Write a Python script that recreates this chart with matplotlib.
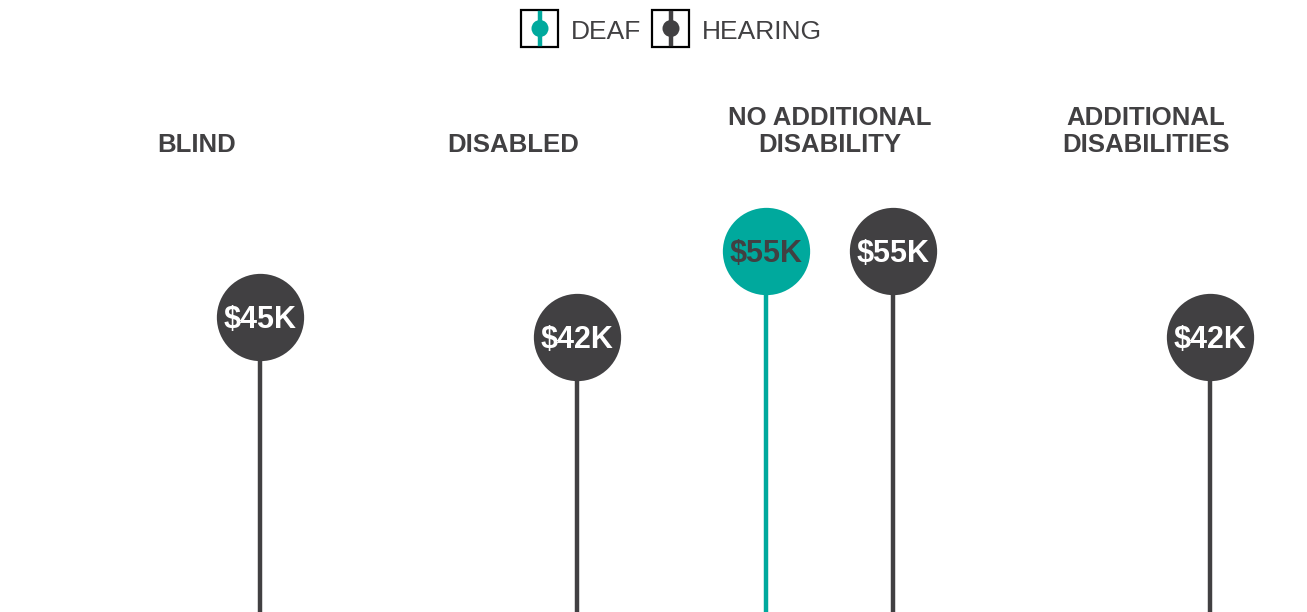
import numpy as np
import matplotlib.pyplot as plt
from matplotlib.patches import Rectangle, Ellipse
from matplotlib.lines import Line2D
import matplotlib.transforms as mtransforms

plt.rcParams["font.family"] = ["Liberation Sans", "DejaVu Sans"]

# Data (median earnings, $K)
groups = ["BLIND", "DISABLED", "NO ADDITIONAL\nDISABILITY", "ADDITIONAL\nDISABILITIES"]
deaf = [np.nan, np.nan, 55, np.nan]
hearing = [45, 42, 55, 42]

TEAL = "#00A99D"
DARK = "#414042"

W, H = 1307, 612
fig = plt.figure(figsize=(W / 100, H / 100), dpi=100)
ax = fig.add_axes([0, 0, 1, 1])

# group spacing ~316.5 px, first group centred at 196.5 px
spacing = 316.5
x0 = 196.5
ax.set_xlim(-x0 / spacing, (W - x0) / spacing)
px_per_k = 6.6
ax.set_ylim(55 - (H - 251) / px_per_k, 55 + 251 / px_per_k)
ax.axis("off")

xpos = np.arange(len(groups))
off = 63.5 / spacing
msize = 3950  # points^2, ~87 px diameter


def draw_series(xs, vals, color, txtcolor):
    for x, v in zip(xs, vals):
        if np.isnan(v):
            continue
        ax.plot([x, x], [ax.get_ylim()[0] - 5, v], color=color, lw=3.2,
                solid_capstyle="butt", zorder=1)
        ax.scatter([x], [v], s=msize, color=color, zorder=2, linewidths=0)
        ax.text(x, v, f"${v:.0f}K", ha="center", va="center_baseline",
                fontsize=22, fontweight="bold", color=txtcolor, zorder=3)


draw_series(xpos - off, deaf, TEAL, DARK)
draw_series(xpos + off, hearing, DARK, "white")

# group titles
trans = mtransforms.blended_transform_factory(ax.transData, ax.transAxes)
for x, g in zip(xpos, groups):
    ax.text(x, 1 - 152 / H, g, transform=trans, ha="center", va="baseline",
            fontsize=18.5, fontweight="bold", color=DARK, linespacing=1.15,
            multialignment="center")

# legend drawn in pixel coordinates
lax = fig.add_axes([0, 0, 1, 1], facecolor="none")
lax.set_xlim(0, W)
lax.set_ylim(H, 0)
lax.axis("off")


def legend_item(xl, color, label):
    lax.add_patch(Rectangle((xl, 10), 37, 37, fill=False, ec="black", lw=1.6))
    cx, cy = xl + 19, 28.5
    lax.add_line(Line2D([cx, cx], [13, 44], color=color, lw=3.2))
    lax.add_patch(Ellipse((cx, cy), 17, 17, color=color, lw=0))
    lax.text(xl + 50, 39, label, ha="left", va="baseline", fontsize=19,
             color=DARK)


legend_item(521, TEAL, "DEAF")
legend_item(652, DARK, "HEARING")

fig.savefig("out.png", dpi=100)
